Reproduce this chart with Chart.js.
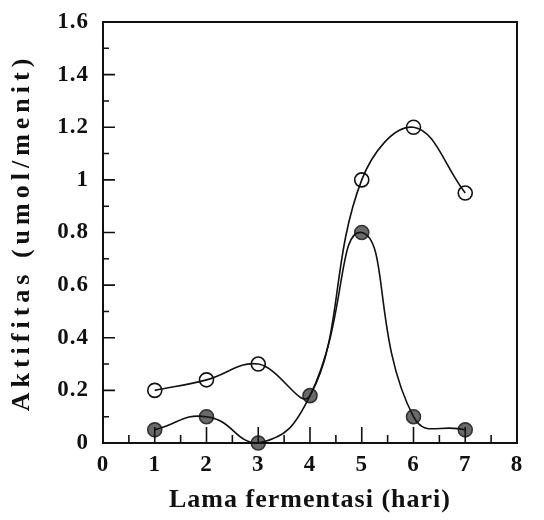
<!DOCTYPE html>
<html>
<head>
<meta charset="utf-8">
<script src="https://cdn.jsdelivr.net/npm/chart.js@4"></script>
<style>
  body { margin: 0; background: #fff; }
</style>
</head>
<body>
<canvas id="myChart" width="544" height="520"></canvas>
<script>
// data
const days = [1, 2, 3, 4, 5, 6, 7];
const openValues = [0.2, 0.24, 0.3, 0.18, 1.0, 1.2, 0.95];
const filledValues = [0.05, 0.1, 0.0, 0.18, 0.8, 0.1, 0.05];
const yTicks = [0, 0.2, 0.4, 0.6, 0.8, 1, 1.2, 1.4, 1.6];
const xTicks = [0, 1, 2, 3, 4, 5, 6, 7, 8];

const serif = "'Liberation Serif', 'DejaVu Serif', serif";

const openPts = days.map((d, i) => ({ x: d, y: openValues[i] }));
const filledPts = days.map((d, i) => ({ x: d, y: filledValues[i] }));

// inward ticks + frame
const frame = {
  id: 'frame',
  beforeDraw(chart) {
    chart.ctx.letterSpacing = '1px';
  },
  afterDraw(chart) {
    const c = chart.ctx;
    const a = chart.chartArea;
    const xs = chart.scales.x, ys = chart.scales.y;
    c.save();
    c.strokeStyle = '#111';
    c.lineWidth = 2;
    c.strokeRect(a.left, a.top, a.right - a.left, a.bottom - a.top);
    c.lineWidth = 1.6;
    c.beginPath();
    for (let v = 0.1; v < 1.6; v += 0.1) {
      const y = ys.getPixelForValue(v);
      const major = Math.round(v * 10) % 2 == 0;
      c.moveTo(a.left, y);
      c.lineTo(a.left + (major ? 12 : 6), y);
    }
    for (let v = 0.5; v < 8; v += 0.5) {
      const x = xs.getPixelForValue(v);
      const major = v % 1 == 0;
      c.moveTo(x, a.bottom);
      c.lineTo(x, a.bottom - (major ? 16 : 8));
    }
    c.stroke();
    c.restore();
  }
};

new Chart(document.getElementById('myChart'), {
  type: 'line',
  data: {
    datasets: [{
      // open circles curve
      data: openPts,
      borderColor: '#111',
      borderWidth: 1.6,
      tension: 0.4,
      pointRadius: 0,
      clip: 0
    }, {
      // filled circles curve
      data: filledPts,
      borderColor: '#111',
      borderWidth: 1.6,
      tension: 0.5,
      pointRadius: 0,
      clip: 0
    }, {
      data: openPts,
      showLine: false,
      pointRadius: [7, 7, 7, 0, 7, 7, 7],
      pointBackgroundColor: '#fff',
      pointBorderColor: '#111',
      pointBorderWidth: 1.6,
      clip: false
    }, {
      data: filledPts,
      showLine: false,
      pointRadius: 7,
      pointBackgroundColor: '#6a6a6a',
      pointBorderColor: '#333',
      pointBorderWidth: 1.6,
      clip: false
    }]
  },
  options: {
    responsive: false,
    animation: false,
    layout: { padding: { top: 22, right: 27, left: 0, bottom: 0 } },
    plugins: { legend: { display: false }, tooltip: { enabled: false } },
    scales: {
      x: {
        type: 'linear',
        min: 0, max: 8,
        afterBuildTicks: s => { s.ticks = xTicks.map(v => ({ value: v })); },
        afterFit: s => { s.height = 77; s.paddingLeft = 0; s.paddingRight = 0; },
        grid: { display: false, drawTicks: false },
        border: { display: false },
        ticks: { padding: 8, color: '#111', font: { family: serif, size: 23, weight: 'bold' } },
        title: { display: true, text: 'Lama fermentasi (hari)', color: '#111', padding: { top: 0, bottom: 4 }, font: { family: serif, size: 26, weight: 'bold' } }
      },
      y: {
        min: 0, max: 1.6,
        afterBuildTicks: s => { s.ticks = yTicks.map(v => ({ value: v })); },
        afterFit: s => {
          s.width = 103;
          s.paddingTop = 0;
          s.paddingBottom = 0;
          // wider letter spacing on the rotated title, as in the scan
          const orig = s.drawTitle;
          s.drawTitle = function () {
            this.ctx.save();
            this.ctx.letterSpacing = '5px';
            orig.call(this);
            this.ctx.restore();
          };
        },
        grid: { display: false, drawTicks: false },
        border: { display: false },
        ticks: {
          padding: 14, color: '#111',
          font: { family: serif, size: 23, weight: 'bold' },
          callback: v => String(+v.toFixed(1))
        },
        title: { display: true, text: 'Aktifitas (umol/menit)', color: '#111', padding: { top: 7, bottom: 0 }, font: { family: serif, size: 26, weight: 'bold' } }
      }
    }
  },
  plugins: [frame]
});
</script>
</body>
</html>
